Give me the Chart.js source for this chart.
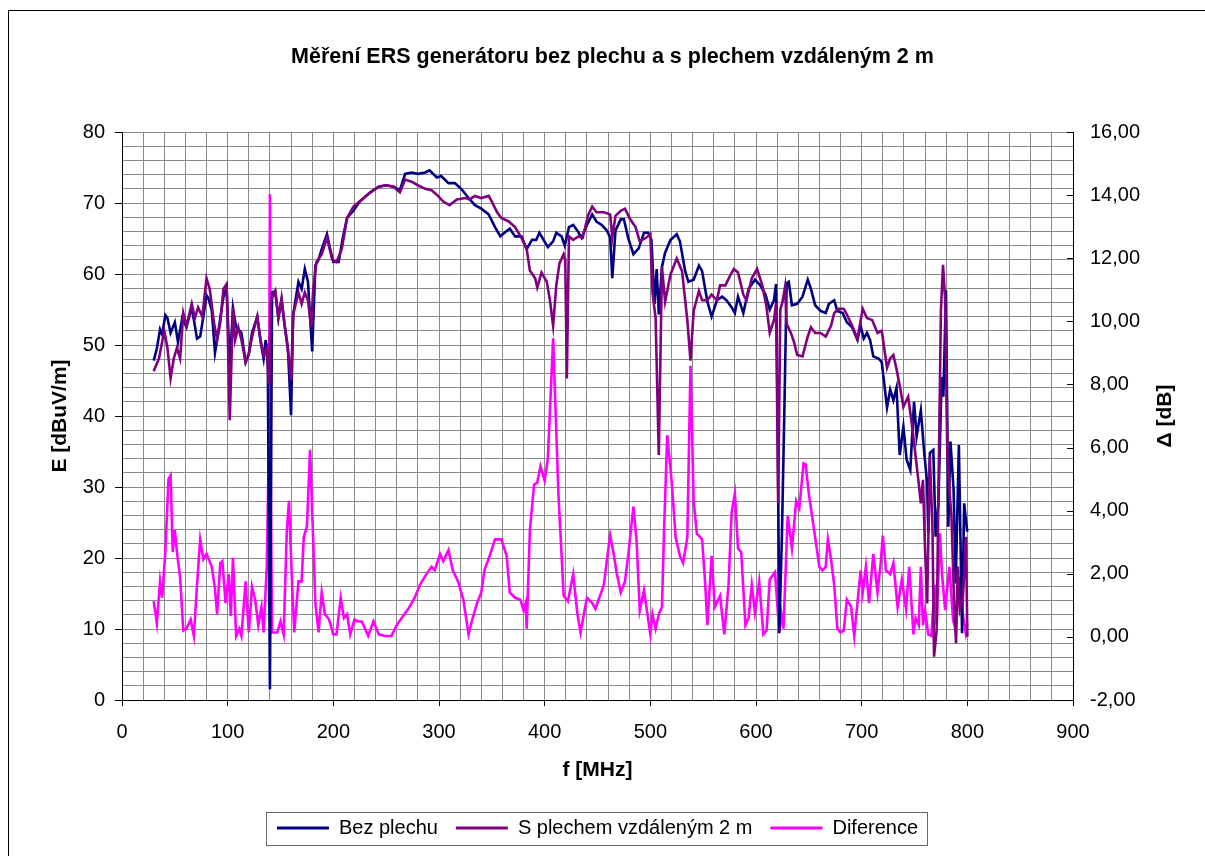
<!DOCTYPE html>
<html>
<head>
<meta charset="utf-8">
<script src="https://cdn.jsdelivr.net/npm/chart.js@4/dist/chart.umd.min.js"></script>
<style>
  html, body { margin: 0; padding: 0; background: #fff; }
  #wrap { position: relative; width: 1205px; height: 856px; overflow: hidden; }
</style>
</head>
<body>
<div id="wrap"><canvas id="myChart" width="1205" height="856"></canvas></div>
<script>
// Bez plechu (E, dBuV/m)
var fBez = [30, 33, 36, 38, 41, 43, 46, 50, 53, 57, 61, 66, 71, 74, 77, 80, 82, 85, 88, 91, 96, 99, 102, 105, 108, 113, 117, 120, 123, 128, 131, 134, 136, 138, 140, 142, 145, 148, 151, 154, 157, 160, 162, 167, 170, 173, 176, 180, 183, 186, 189, 194, 197, 200, 205, 209, 213, 219, 225, 235, 243, 250, 257, 263, 268, 274, 280, 287, 291, 298, 302, 309, 315, 321, 328, 334, 340, 347, 353, 358, 362, 367, 372, 378, 383, 388, 392, 395, 399, 403, 408, 411, 416, 419, 423, 427, 431, 435, 440, 445, 449, 454, 459, 462, 464, 467, 472, 475, 479, 484, 489, 494, 498, 501, 504, 506, 508, 511, 514, 519, 525, 528, 533, 536, 541, 546, 549, 554, 558, 563, 568, 572, 577, 580, 583, 588, 593, 599, 604, 609, 613, 617, 619, 620.5, 622, 624.5, 627, 629, 631, 634, 639, 644, 649, 652, 656, 661, 666, 669, 674, 677, 682, 686, 691, 696, 699, 702, 705, 708, 711, 716, 719, 724, 727, 730, 733, 736, 739.5, 742.6, 746, 749.6, 752, 756, 759, 762, 763, 764.6, 767.8, 770, 772.6, 775.7, 777.3, 779.8, 782, 784, 787, 789, 792, 795, 797, 799, 800];
var bez = [47.8, 49.5, 52.2, 51.5, 54.2, 53.8, 51.7, 53.2, 50.4, 53.8, 52.5, 55.3, 50.9, 51.2, 54.0, 57.0, 56.5, 54.8, 48.9, 51.7, 56.8, 58.1, 47.0, 55.2, 52.5, 51.7, 47.6, 48.6, 51.7, 54.0, 50.7, 48.1, 50.7, 47.1, 1.5, 57.4, 57.6, 53.8, 56.3, 52.7, 49.6, 40.1, 54.3, 58.9, 57.9, 60.7, 58.9, 49.1, 61.2, 62.0, 63.5, 65.6, 63.5, 61.7, 61.7, 65.1, 67.9, 68.9, 70.2, 71.5, 72.3, 72.5, 72.3, 71.8, 74.1, 74.3, 74.1, 74.3, 74.6, 73.6, 73.8, 72.8, 72.8, 72.0, 70.7, 69.7, 69.2, 68.4, 66.6, 65.3, 65.8, 66.4, 65.3, 65.3, 63.5, 64.8, 64.8, 65.8, 64.8, 63.8, 64.6, 65.8, 65.3, 64.0, 66.6, 66.9, 66.1, 65.1, 66.9, 68.4, 67.4, 66.9, 66.1, 65.1, 59.4, 66.1, 67.7, 67.7, 65.1, 62.8, 63.6, 65.8, 65.8, 64.8, 55.8, 60.7, 54.3, 61.0, 63.0, 64.8, 65.6, 64.6, 60.4, 58.9, 59.2, 61.2, 60.4, 56.1, 54.0, 56.3, 56.8, 56.3, 55.3, 54.5, 56.8, 54.5, 57.9, 59.2, 58.4, 57.1, 55.0, 56.3, 58.6, 40.0, 9.4, 23.0, 42.0, 58.7, 58.9, 55.6, 55.8, 56.8, 59.2, 57.9, 55.6, 54.8, 54.5, 55.8, 56.3, 54.8, 54.5, 53.2, 52.5, 50.7, 52.7, 50.9, 51.7, 50.7, 48.4, 48.1, 47.6, 41.2, 43.7, 42.2, 44.0, 34.5, 38.5, 33.8, 32.4, 42.0, 37.1, 40.8, 35.2, 30.5, 23.5, 34.8, 35.2, 23.0, 27.7, 45.5, 42.7, 57.7, 24.4, 36.4, 29.6, 16.4, 35.9, 9.4, 27.7, 24.9, 23.7];

// S plechem vzdaleným 2 m (E, dBuV/m)
var fPlech = [30, 35, 40, 43, 46, 49, 52, 55, 58, 61, 66, 69, 72, 76, 80, 83, 87, 90, 93, 96, 99, 102, 105, 107, 110, 113, 117, 120, 124, 128, 131, 134, 137, 139, 141, 145, 148, 151, 154, 158, 160, 162, 167, 170, 173, 176, 179, 181, 184, 189, 194, 199, 203, 208, 213, 219, 227, 235, 243, 250, 257, 263, 268, 274, 280, 287, 293, 299, 304, 310, 317, 325, 329, 334, 340, 347, 350, 355, 359, 366, 372, 378, 383, 386, 391, 393, 397, 402, 405, 408, 411, 414, 418, 419.5, 421, 423, 427, 432, 436, 441, 445, 449, 456, 462, 464, 467, 472, 476, 481, 486, 490, 496, 500, 502, 505, 508, 511, 514, 519, 525, 530, 535, 538, 541, 546, 549, 554, 558, 563, 566, 571, 576, 579, 583, 588, 591, 596, 601, 606, 610, 613, 617, 619, 621, 623, 625, 627.5, 629, 633, 636, 639, 644, 649, 652, 656, 661, 666, 671, 674, 678, 683, 686, 691, 696, 701, 705, 710, 715, 719, 724, 727, 730, 733, 736, 739.5, 744, 747, 750, 754, 756, 758, 760, 762, 764.5, 767, 768.5, 771, 773, 775, 777, 779, 781, 783, 785, 787.7, 789.3, 791, 793, 795.7, 798.8, 800];
var plech = [46.3, 48.1, 52.0, 49.6, 45.3, 48.1, 49.6, 48.1, 54.5, 52.7, 55.8, 53.8, 55.3, 54.0, 59.4, 57.9, 53.2, 50.7, 53.2, 57.9, 58.6, 39.4, 55.3, 50.7, 52.5, 50.7, 47.6, 48.9, 51.7, 54.0, 50.7, 48.6, 49.6, 44.5, 56.3, 57.6, 53.8, 56.6, 52.7, 48.1, 45.0, 54.3, 57.4, 55.8, 57.4, 56.3, 52.5, 57.9, 61.7, 62.8, 65.1, 62.0, 61.7, 63.5, 67.9, 69.5, 70.5, 71.5, 72.3, 72.5, 72.3, 71.5, 73.3, 73.0, 72.5, 72.0, 71.8, 71.0, 70.2, 69.7, 70.5, 70.7, 70.5, 71.0, 70.7, 71.0, 70.2, 68.7, 67.9, 67.4, 66.6, 65.1, 63.5, 60.5, 59.4, 58.1, 60.2, 58.9, 56.3, 52.7, 58.4, 61.5, 62.8, 62.0, 45.3, 65.3, 64.8, 65.3, 65.1, 68.2, 69.5, 68.7, 68.7, 68.4, 65.1, 68.2, 68.9, 69.2, 67.7, 66.6, 64.6, 65.1, 65.6, 57.4, 53.8, 34.5, 61.0, 56.1, 59.9, 62.2, 60.4, 53.5, 47.8, 54.8, 57.6, 56.3, 56.3, 57.1, 56.3, 58.4, 58.4, 59.9, 60.7, 60.2, 57.1, 56.3, 59.4, 60.7, 58.4, 55.3, 51.7, 53.5, 55.9, 27.7, 55.0, 56.0, 58.2, 53.0, 51.7, 50.4, 48.6, 48.4, 51.2, 52.5, 51.7, 51.7, 51.2, 52.7, 54.5, 55.1, 55.1, 54.3, 52.7, 50.9, 55.1, 53.8, 53.5, 51.7, 52.0, 46.8, 48.1, 48.6, 46.6, 44.3, 41.3, 42.7, 39.4, 35.7, 30.5, 27.7, 31.0, 21.1, 13.6, 34.3, 24.4, 6.1, 9.9, 32.9, 54.9, 61.3, 56.3, 35.2, 29.6, 25.8, 12.7, 8.0, 18.8, 12.7, 14.1, 23.0, 8.9];

// Diference (dB, right axis)
var fDif = [30, 33, 36, 38, 41, 44, 46, 48, 50, 52, 55, 58, 61, 65, 68, 71, 74, 77, 80, 85, 88, 90, 93, 95, 98, 101, 103, 105, 108, 111, 113, 117, 120, 123, 126, 129, 132, 134, 137, 139, 140, 141, 142, 147, 150, 153, 156, 158, 161, 163, 167, 170, 172, 175, 178, 180, 183, 186, 189, 192, 196, 200, 203, 207, 210, 213, 216, 220, 223, 227, 233, 238, 243, 249, 255, 260, 266, 271, 277, 282, 288, 293, 296, 301, 304, 309, 313, 318, 323, 328, 331, 336, 340, 343, 348, 353, 359, 364, 367, 372, 377, 380, 382, 383, 386, 390, 393, 396, 400, 403, 408, 413, 418, 422, 427, 431, 434, 440, 445, 448, 453, 456, 459, 462, 465, 468, 472, 476, 479, 484, 487, 490, 494, 497, 500, 502, 505, 508, 511, 513, 516, 520, 524, 528, 531, 535, 538, 541, 544, 549, 552, 554, 558, 561, 566, 570, 574, 577, 580, 583, 586, 590, 593, 596, 599, 603, 607, 610, 613, 618, 622, 624, 626, 630, 634, 638, 641, 645, 647, 650, 653, 656, 660, 663, 666, 668, 671, 674, 677, 680, 683, 686, 690, 693, 696, 699, 701, 704, 707, 711, 715, 718, 720, 723, 727, 730, 734, 738, 742, 745, 749, 751, 754, 756, 758, 760, 763, 766, 769, 771, 774, 776, 779, 783, 786.5, 789, 792, 795.5, 798.5, 800];
var dif = [1.13, 0.43, 1.76, 1.24, 2.69, 5.0, 5.12, 2.69, 3.38, 2.69, 1.88, 0.2, 0.26, 0.55, 0.03, 1.65, 3.09, 2.46, 2.63, 2.22, 1.53, 0.72, 2.34, 2.4, 1.07, 1.99, 0.66, 2.51, 0.03, 0.26, 0.03, 1.76, 0.14, 1.59, 1.18, 0.37, 0.95, 0.14, 2.22, 6.0, 14.03, 4.0, 0.14, 0.14, 0.49, 0.08, 3.38, 4.31, 1.65, 0.14, 1.76, 1.76, 3.15, 3.5, 5.93, 3.96, 1.07, 0.14, 1.41, 0.72, 0.55, 0.08, 0.08, 1.24, 0.6, 0.72, 0.08, 0.55, 0.49, 0.49, 0.03, 0.49, 0.08, 0.03, 0.03, 0.37, 0.66, 0.89, 1.24, 1.65, 1.99, 2.22, 2.11, 2.63, 2.4, 2.75, 2.11, 1.76, 1.18, 0.08, 0.49, 1.07, 1.41, 2.11, 2.57, 3.09, 3.09, 2.57, 1.41, 1.24, 1.18, 0.84, 1.07, 0.26, 3.38, 4.83, 4.89, 5.41, 4.95, 5.64, 9.46, 4.54, 1.3, 1.13, 1.99, 0.72, 0.14, 1.24, 1.07, 0.89, 1.36, 1.65, 2.46, 3.21, 2.69, 2.05, 1.41, 1.76, 2.57, 4.13, 3.03, 0.84, 1.47, 0.78, 0.08, 0.72, 0.26, 0.72, 0.95, 3.38, 6.39, 5.0, 3.15, 2.57, 2.34, 3.15, 8.59, 4.31, 3.27, 3.09, 1.65, 0.37, 2.57, 0.95, 1.3, 0.08, 1.65, 3.96, 4.54, 2.8, 2.69, 0.37, 0.6, 1.65, 0.78, 1.76, 0.08, 0.2, 1.82, 2.05, 0.14, 0.72, 0.26, 3.84, 2.8, 4.31, 4.08, 5.5, 5.47, 4.54, 3.84, 3.15, 2.22, 2.11, 2.22, 3.09, 2.46, 1.65, 0.26, 0.14, 0.2, 1.18, 0.95, 0.03, 1.07, 2.11, 1.41, 2.22, 1.07, 2.63, 1.41, 2.34, 3.21, 2.11, 1.99, 2.34, 0.95, 1.82, 0.89, 2.22, 0.08, 0.6, 0.37, 2.22, 0.37, 0.84, 0.08, 0.03, 1.65, 0.37, 3.28, 2.01, 0.85, 2.22, 0.54, 0.22, 1.91, 0.75, 0.11, 0.43];

var fontFam = '"Liberation Sans", Arial, Helvetica, sans-serif';
var gridColor = '#8a8a8a';

function pts(xs, ys) {
    return xs.map(function (x, i) { return { x: x, y: ys[i] }; });
}

Chart.defaults.font.family = fontFam;
Chart.defaults.color = '#000';

// white background + outer frame, legend box, right axis title, inner ticks on the right axis
var extras = {
    id: 'extras',
    beforeDraw: function (chart) {
        var c = chart.ctx;
        c.save();
        c.fillStyle = '#fff';
        c.fillRect(0, 0, chart.width, chart.height);
        c.strokeStyle = '#000';
        c.lineWidth = 1;
        c.strokeRect(8.5, 10.5, 1400, 1000);
        c.restore();
    },
    afterDraw: function (chart) {
        var c = chart.ctx;
        var hb = chart.legend.legendHitBoxes;
        c.save();
        if (hb && hb.length) {
            var l = hb[0].left, r = hb[hb.length - 1].left + hb[hb.length - 1].width;
            var t = hb[0].top;
            c.strokeStyle = '#666';
            c.lineWidth = 1;
            c.strokeRect(Math.round(l - 11) + 0.5, Math.round(t - 6) + 0.5, Math.round(r - l + 20), Math.round(hb[0].height + 13));
        }
        var s = chart.scales.y1;
        c.strokeStyle = '#000';
        c.lineWidth = 1;
        s.ticks.forEach(function (tk) {
            var y = Math.round(s.getPixelForValue(tk.value)) + 0.5;
            c.beginPath();
            c.moveTo(s.left - 6, y);
            c.lineTo(s.left, y);
            c.stroke();
        });
        c.translate(1165, (chart.chartArea.top + chart.chartArea.bottom) / 2);
        c.rotate(-Math.PI / 2);
        c.font = 'bold 21px ' + fontFam;
        c.fillStyle = '#000';
        c.textAlign = 'center';
        c.textBaseline = 'middle';
        c.fillText('\u0394 [dB]', 0, 0);
        c.restore();
    }
};

var ctx = document.getElementById('myChart').getContext('2d');

var myChart = new Chart(ctx, {
    type: 'line',
    data: {
        datasets: [{
            label: 'Bez plechu',
            data: pts(fBez, bez),
            borderColor: '#000080',
            backgroundColor: '#000080',
            yAxisID: 'y',
            order: 1
        }, {
            label: 'S plechem vzdáleným 2 m',
            data: pts(fPlech, plech),
            borderColor: '#800080',
            backgroundColor: '#800080',
            yAxisID: 'y',
            order: 0
        }, {
            label: 'Diference',
            data: pts(fDif, dif),
            borderColor: '#ff00ff',
            backgroundColor: '#ff00ff',
            yAxisID: 'y1',
            order: 2
        }]
    },
    options: {
        responsive: false,
        animation: false,
        events: [],
        elements: {
            point: { radius: 0 },
            line: { borderWidth: 2.6, tension: 0, fill: false }
        },
        layout: { padding: { left: 20, right: 0, top: 0, bottom: 8 } },
        plugins: {
            title: {
                display: true,
                text: 'Měření ERS generátoru bez plechu a s plechem vzdáleným 2 m',
                font: { size: 21.5, weight: 'bold' },
                padding: { top: 44.1, bottom: 62.1 }
            },
            legend: {
                position: 'bottom',
                fullSize: false,
                labels: {
                    boxWidth: 52,
                    boxHeight: 3,
                    padding: 18,
                    font: { size: 20 },
                    generateLabels: function (chart) {
                        var items = Chart.defaults.plugins.legend.labels.generateLabels(chart);
                        items.forEach(function (it) { it.lineWidth = 0; it.fillStyle = it.strokeStyle; });
                        return items.sort(function (a, b) { return a.datasetIndex - b.datasetIndex; });
                    }
                }
            },
            tooltip: { enabled: false }
        },
        scales: {
            x: {
                type: 'linear',
                min: 0,
                max: 900,
                ticks: {
                    stepSize: 20,
                    autoSkip: false,
                    maxRotation: 0,
                    padding: 14,
                    font: { size: 20 },
                    callback: function (v) { return v % 100 === 0 ? String(v) : ''; }
                },
                grid: {
                    color: gridColor,
                    tickLength: 6,
                    tickColor: function (c) { return c.tick && c.tick.value % 100 === 0 ? '#000' : 'rgba(0,0,0,0)'; }
                },
                border: { color: '#000' },
                title: {
                    display: true,
                    text: 'f [MHz]',
                    font: { size: 21, weight: 'bold' },
                    padding: { top: 0, bottom: 17.4 }
                },
                afterFit: function (s) { s.height = 100; }
            },
            y: {
                position: 'left',
                min: 0,
                max: 80,
                ticks: {
                    stepSize: 2,
                    autoSkip: false,
                    padding: 10,
                    font: { size: 20 },
                    callback: function (v) { return v % 10 === 0 ? String(v) : ''; }
                },
                grid: {
                    color: gridColor,
                    tickLength: 7,
                    tickColor: function (c) { return c.tick && c.tick.value % 10 === 0 ? '#000' : 'rgba(0,0,0,0)'; }
                },
                border: { color: '#000' },
                title: {
                    display: true,
                    text: 'E [dBuV/m]',
                    font: { size: 21, weight: 'bold' },
                    padding: { top: 27.4, bottom: 0 }
                },
                afterFit: function (s) { s.width = 102; }
            },
            y1: {
                position: 'right',
                min: -2,
                max: 16,
                ticks: {
                    stepSize: 2,
                    autoSkip: false,
                    padding: 17,
                    font: { size: 20 },
                    callback: function (v) { return v.toFixed(2).replace('.', ','); }
                },
                grid: { drawOnChartArea: false, drawTicks: false },
                border: { color: '#000' },
                afterFit: function (s) { s.width = 132; }
            }
        }
    },
    plugins: [extras]
});
</script>
</body>
</html>
